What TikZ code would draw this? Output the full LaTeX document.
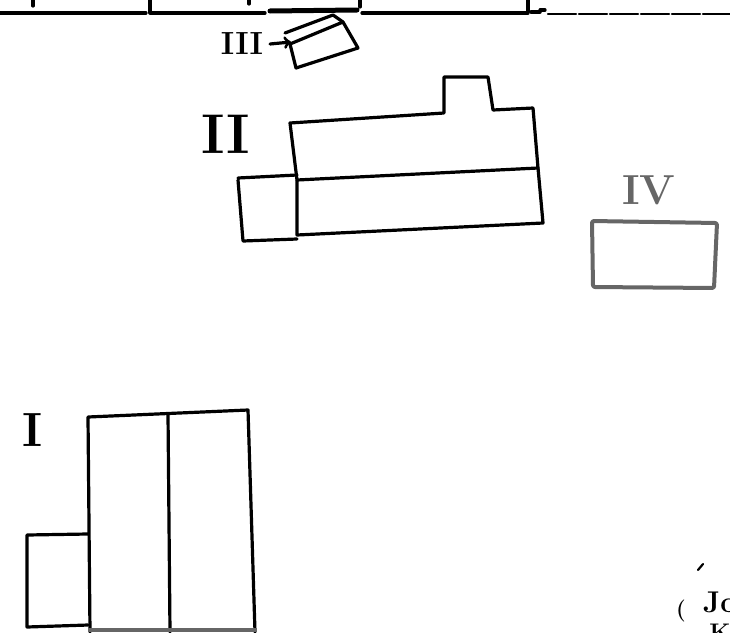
\documentclass[tikz,border=0pt]{standalone}
\usepackage{tikz}
\tikzset{
  wall/.style={line width=3.2pt,line join=round,line cap=round},
  numeral/.style={font=\fontsize{#1}{#1}\selectfont\bfseries}
}
\begin{document}
\begin{tikzpicture}[x=1pt,y=-1pt,wall]
  \useasboundingbox (0,0) rectangle (730,632);
  \clip (0,0) rectangle (730,632);
  % top wall
  \draw (0,13) -- (146,13);
  \draw (33,0) -- (33,6);
  \draw (150,0) -- (150,13) -- (265,13);
  \draw (249,0) -- (249,4);
  \draw[line width=5pt] (270,11) -- (357,10);
  \draw (360,0) -- (360,7);
  \draw (362,13) -- (528,13);
  \draw (528,0) -- (528,12);
  \draw[line width=3.5pt] (531,12) -- (540,12);
  \draw (540,10) -- (545,10);
  \draw[line width=2.2pt,dash pattern=on 28pt off 3pt] (548,14) -- (730,14);
  % III
  \node[numeral=32] (lblIII) at (242,44) {III};
  \draw (290,44) -- (343,22) -- (358,48) -- (296,68) -- cycle;
  \draw (285,33) -- (333,15) -- (343,22);
  \coordinate (IIIin) at (291,42);
  \draw[->] (lblIII.east) ++(2,0) -- (IIIin);
  % II
  \node[numeral=56] (lblII) at (226,134) {II};
  \draw (290,123) -- (444,113) -- (444,77) -- (488,77) -- (493,110) -- (533,108)
        -- (538,168) -- (297,180) -- cycle;
  \draw (297,180) -- (297,235) -- (543,223) -- (538,168);
  \draw (238,178) -- (297,175) (238,180) -- (243,241) -- (297,239);
  % IV
  \node[numeral=42,text=black!60] (lblIV) at (649,190) {IV};
  \draw[black!60,line width=4pt,rounded corners=2pt] (592,221) -- (717,223) -- (714,288) -- (593,287) -- cycle;
  % I
  \node[numeral=48] (lblI) at (33,430) {I};
  \draw (90,632) -- (88,417) -- (248,410) -- (255,632);
  \draw (168,414) -- (170,632);
  \draw (88,534) -- (27,535) -- (27,627) -- (88,625);
  \fill[black!60] (88,628) rectangle (257,632);
  % corner notes
  \draw[line width=2.2pt] (698,570) -- (703,564);
  \node[numeral=22] (paren) at (681,611) {(};
  \node[numeral=30,anchor=west] (noteJ) at (698,602) {Jo};
  \node[numeral=24] (noteK) at (720,632) {K};
\end{tikzpicture}
\end{document}
